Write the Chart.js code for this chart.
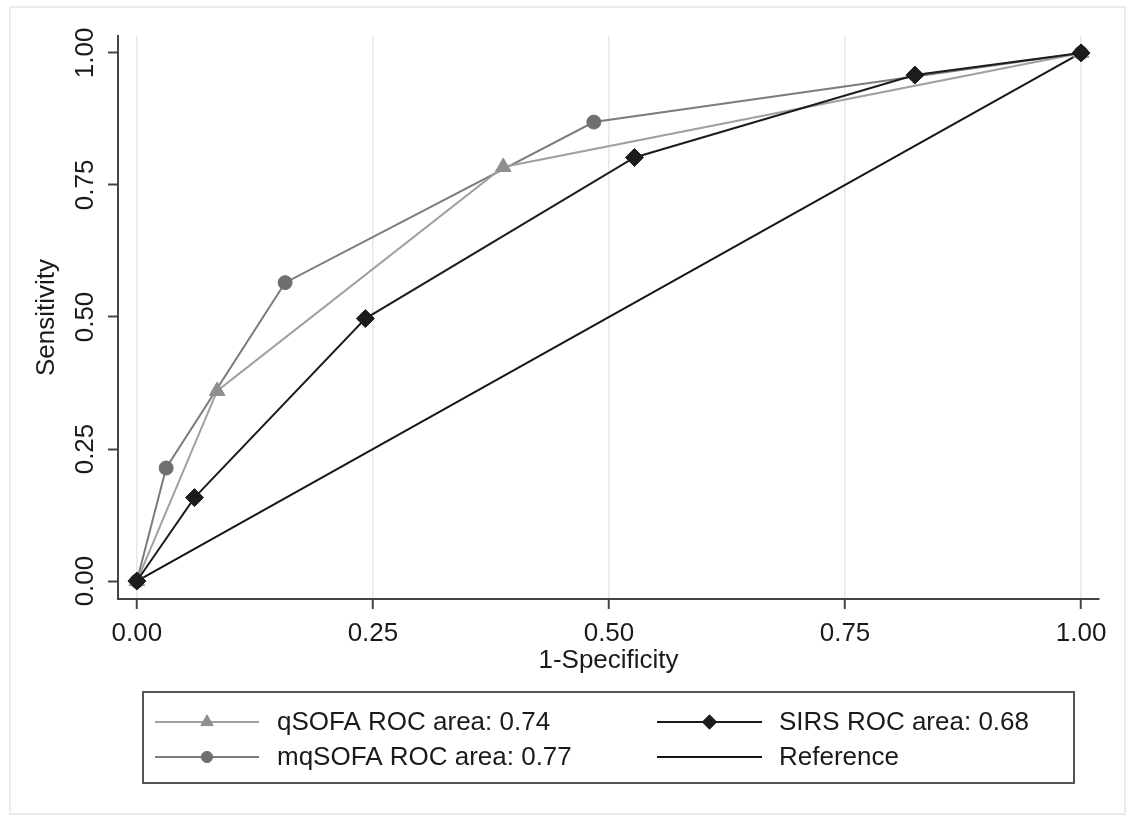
<!DOCTYPE html>
<html>
<head>
<meta charset="utf-8">
<script src="https://cdn.jsdelivr.net/npm/chart.js@4.4.1/dist/chart.umd.min.js"></script>
<style>
html,body{margin:0;padding:0;background:#fff;}
#wrap{width:1129px;height:818px;}
</style>
</head>
<body>
<div id="wrap"><canvas id="c" width="1129" height="818"></canvas></div>
<script>
// ---- data ----
const tickValues = [0, 0.25, 0.5, 0.75, 1];
const tickLabels = ['0.00', '0.25', '0.50', '0.75', '1.00'];

const qsofaX = [0, 0.085, 0.388, 1];
const qsofaY = [0, 0.36, 0.784, 1];

const mqsofaX = [0, 0.031, 0.157, 0.484, 1];
const mqsofaY = [0, 0.214, 0.565, 0.869, 1];

const sirsX = [0, 0.061, 0.242, 0.527, 0.824, 1];
const sirsY = [0, 0.158, 0.497, 0.802, 0.958, 1];

const refX = [0, 1];
const refY = [0, 1];

const legendLabels = ['qSOFA ROC area: 0.74', 'SIRS ROC area: 0.68', 'mqSOFA ROC area: 0.77', 'Reference'];
const xTitle = '1-Specificity';
const yTitle = 'Sensitivity';

function pts(xs, ys) { return xs.map((x, i) => ({x: x, y: ys[i]})); }

const FONT = "'Liberation Sans', Arial, sans-serif";

const datasets = [
  {label: legendLabels[1], data: pts(sirsX, sirsY), borderColor: '#1c1c1c', backgroundColor: '#1c1c1c',
   pointStyle: 'rectRot', pointRadius: 9, borderWidth: 2, pointBorderWidth: 1},
  {label: legendLabels[0], data: pts(qsofaX, qsofaY), borderColor: '#a0a0a0', backgroundColor: '#8e8e8e',
   pointBorderColor: '#8e8e8e', pointStyle: 'triangle', pointRadius: 9, borderWidth: 2, pointBorderWidth: 1},
  {label: legendLabels[2], data: pts(mqsofaX, mqsofaY), borderColor: '#7c7c7c', backgroundColor: '#6f6f6f',
   pointBorderColor: '#6f6f6f', pointStyle: 'circle', pointRadius: 7, borderWidth: 2, pointBorderWidth: 1},
  {label: legendLabels[3], data: pts(refX, refY), borderColor: '#161616', backgroundColor: '#161616',
   pointRadius: 0, borderWidth: 2}
];
datasets.forEach(d => { d.showLine = true; d.tension = 0; d.clip = false; d.pointHoverRadius = d.pointRadius; });

const legendPlugin = {
  id: 'boxLegend',
  afterDraw(chart) {
    const ctx = chart.ctx;
    ctx.save();
    // faint outer frame
    ctx.strokeStyle = '#e4eef1';
    ctx.lineWidth = 2;
    ctx.strokeRect(10, 7, 1115, 807);
    // legend box
    ctx.strokeStyle = '#555';
    ctx.lineWidth = 2;
    ctx.strokeRect(143, 692, 931, 91);
    const cols = [{x0: 155, x1: 259, tx: 277}, {x0: 657, x1: 762, tx: 779}];
    const rows = [722, 757];
    const order = [[1, 0, 0], [0, 0, 1], [2, 1, 0], [3, 1, 1]]; // dataset index, row, col
    ctx.font = "26px " + FONT;
    ctx.textBaseline = 'middle';
    ctx.textAlign = 'left';
    order.forEach(([di, r, c]) => {
      const ds = chart.data.datasets[di];
      const y = rows[r], col = cols[c];
      ctx.strokeStyle = ds.borderColor;
      ctx.lineWidth = 2;
      ctx.beginPath(); ctx.moveTo(col.x0, y); ctx.lineTo(col.x1, y); ctx.stroke();
      if (ds.pointRadius > 0) {
        ctx.fillStyle = ds.backgroundColor;
        ctx.strokeStyle = ds.pointBorderColor || ds.borderColor;
        ctx.lineWidth = 1;
        Chart.helpers.drawPoint(ctx, {pointStyle: ds.pointStyle, radius: ds.pointRadius * 0.8, borderWidth: 1, rotation: 0},
          (col.x0 + col.x1) / 2, y);
      }
      ctx.fillStyle = '#1a1a1a';
      ctx.fillText(ds.label, col.tx, y + 1);
    });
    ctx.restore();
  }
};

new Chart(document.getElementById('c'), {
  type: 'scatter',
  data: {datasets: datasets},
  plugins: [legendPlugin],
  options: {
    responsive: false,
    animation: false,
    layout: {padding: {left: 0, top: 36, right: 30, bottom: 142}},
    plugins: {legend: {display: false}, tooltip: {enabled: false}},
    scales: {
      x: {
        type: 'linear', min: -0.02, max: 1.019,
        afterBuildTicks: s => { s.ticks = tickValues.map(v => ({value: v})); },
        afterFit: s => { s.height = 77; },
        ticks: {
          callback: (v) => tickLabels[tickValues.indexOf(v)] ?? '',
          font: {family: FONT, size: 26}, color: '#1a1a1a', padding: 9, maxRotation: 0, minRotation: 0
        },
        grid: {color: '#dfeaee', lineWidth: 1.5, tickColor: '#444', tickLength: 10, tickWidth: 2, drawOnChartArea: true},
        border: {display: true, color: '#444', width: 2},
        title: {display: true, text: xTitle, font: {family: FONT, size: 26}, color: '#1a1a1a', padding: {top: 0, bottom: 0}}
      },
      y: {
        type: 'linear', min: -0.034, max: 1.032,
        afterBuildTicks: s => { s.ticks = tickValues.map(v => ({value: v})); },
        afterFit: s => { s.width = 118; },
        ticks: {
          callback: (v) => tickLabels[tickValues.indexOf(v)] ?? '',
          font: {family: FONT, size: 26}, color: '#1a1a1a', padding: -3,
          minRotation: 90, maxRotation: 90, crossAlign: 'center'
        },
        grid: {color: 'rgba(0,0,0,0)', tickColor: '#444', tickLength: 10, tickWidth: 2},
        border: {display: true, color: '#444', width: 2},
        title: {display: true, text: yTitle, font: {family: FONT, size: 26}, color: '#1a1a1a', padding: {top: 31, bottom: 0}}
      }
    }
  }
});
</script>
</body>
</html>
